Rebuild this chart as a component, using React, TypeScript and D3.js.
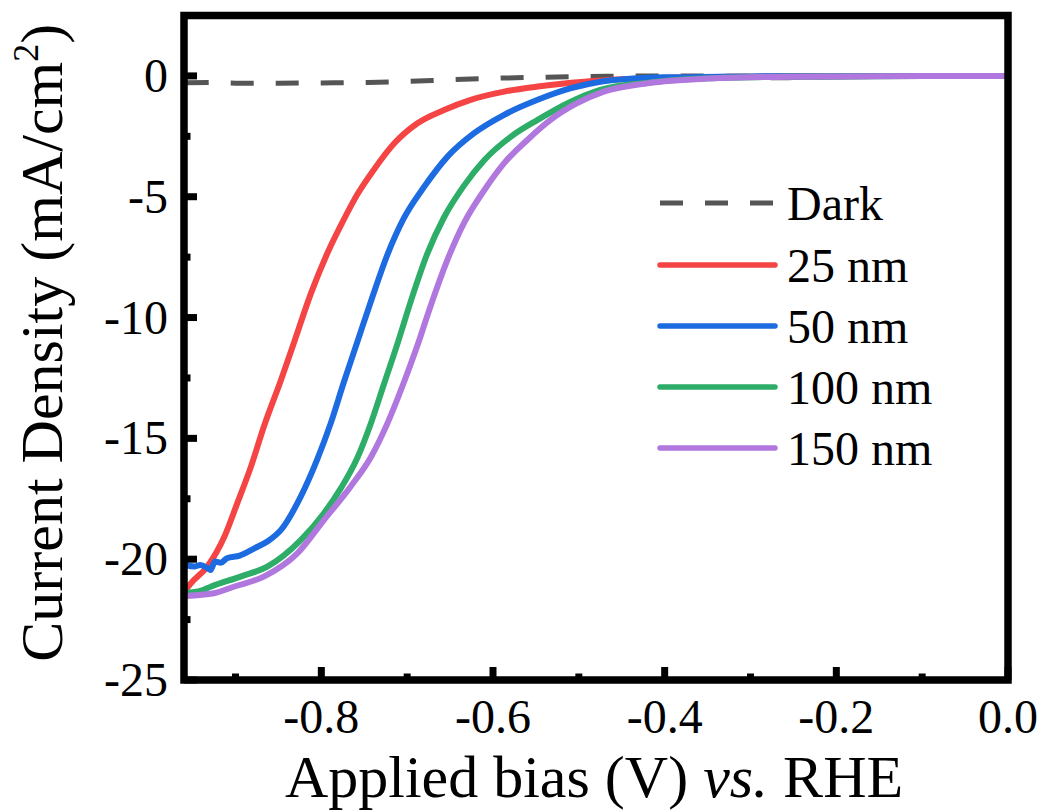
import React from "react";
import * as d3 from "d3";

const xTickValues = [-0.8, -0.6, -0.4, -0.2, 0.0];
const xMinorValues = [-0.9, -0.7, -0.5, -0.3, -0.1];
const yTickValues = [0, -5, -10, -15, -20, -25];
const yMinorValues = [-2.5, -7.5, -12.5, -17.5, -22.5];

const darkV = [-0.958, -0.93, -0.9, -0.85, -0.8, -0.75, -0.7, -0.65, -0.6, -0.55, -0.5, -0.45, -0.4, -0.3, -0.28, -0.2, -0.1, 0];
const darkJ = [-0.28, -0.27, -0.3, -0.3, -0.29, -0.27, -0.23, -0.16, -0.1, -0.06, -0.03, -0.01, 0, -0.02, -0.08, -0.02, 0, 0];

const redV = [-0.958, -0.952, -0.933, -0.913, -0.898, -0.882, -0.867, -0.847, -0.832, -0.812, -0.793, -0.774, -0.758, -0.739, -0.715, -0.688, -0.657, -0.626, -0.587, -0.548, -0.494, -0.45, -0.4, -0.3, -0.2, -0.1, 0];
const redJ = [-21.27, -21.0, -20.31, -19.07, -17.69, -16.17, -14.52, -12.58, -11.05, -8.99, -7.34, -5.96, -4.9, -3.89, -2.79, -1.96, -1.41, -0.99, -0.65, -0.44, -0.24, -0.14, -0.08, -0.03, -0.01, 0, 0];

const blueV = [-0.958, -0.948, -0.941, -0.933, -0.929, -0.924, -0.917, -0.91, -0.895, -0.878, -0.862, -0.847, -0.824, -0.805, -0.789, -0.774, -0.758, -0.741, -0.723, -0.704, -0.68, -0.653, -0.622, -0.587, -0.548, -0.509, -0.475, -0.44, -0.4, -0.3, -0.2, -0.1, 0];
const blueJ = [-20.24, -20.3, -20.24, -20.36, -20.45, -20.1, -20.15, -19.96, -19.85, -19.55, -19.25, -18.79, -17.41, -15.89, -14.37, -12.7, -11.0, -9.2, -7.4, -5.9, -4.58, -3.34, -2.37, -1.61, -0.99, -0.51, -0.24, -0.12, -0.06, -0.02, -0.01, 0, 0];

const greenV = [-0.958, -0.94, -0.929, -0.894, -0.863, -0.824, -0.797, -0.777, -0.758, -0.742, -0.727, -0.711, -0.696, -0.677, -0.657, -0.634, -0.61, -0.579, -0.548, -0.513, -0.475, -0.42, -0.35, -0.25, -0.1, 0];
const greenJ = [-21.4, -21.3, -21.14, -20.72, -20.31, -19.21, -18.1, -17.05, -15.8, -14.35, -12.75, -11.05, -9.35, -7.4, -5.85, -4.55, -3.48, -2.51, -1.82, -1.13, -0.58, -0.28, -0.1, -0.03, 0, 0];

const purpleV = [-0.958, -0.925, -0.902, -0.867, -0.828, -0.797, -0.766, -0.742, -0.723, -0.704, -0.688, -0.673, -0.653, -0.634, -0.61, -0.587, -0.56, -0.533, -0.502, -0.471, -0.42, -0.35, -0.25, -0.1, 0];
const purpleJ = [-21.52, -21.41, -21.14, -20.72, -19.76, -18.38, -17.0, -15.76, -14.38, -12.7, -11.15, -9.55, -7.6, -6.1, -4.72, -3.61, -2.65, -1.82, -1.13, -0.65, -0.3, -0.11, -0.03, 0, 0];

const seriesNames = ["Dark", "25 nm", "50 nm", "100 nm", "150 nm"];
const seriesColors = ["#555555", "#F44444", "#1C6BE0", "#2EAD69", "#B077DF"];

const W = 1044;
const H = 812;
const L = 184, R = 1008, T = 15.5, B = 680;
const FONT = "'Liberation Serif', 'Times New Roman', Times, serif";

export default function App() {
  const x = d3.scaleLinear().domain([-0.96, 0]).range([L, R]);
  const y = d3.scaleLinear().domain([-25, 2.5]).range([B, T]);
  const line = d3
    .line<[number, number]>()
    .x((d) => x(d[0]))
    .y((d) => y(d[1]))
    .curve(d3.curveMonotoneX);

  const series = [
    { v: darkV, j: darkJ },
    { v: redV, j: redJ },
    { v: blueV, j: blueJ },
    { v: greenV, j: greenJ },
    { v: purpleV, j: purpleJ },
  ];
  const drawOrder = [0, 1, 2, 3, 4];
  const legendY = [203, 265, 326, 387, 448];

  return (
    <svg
      width={W}
      height={H}
      style={{ position: "absolute", left: 0, top: 0, background: "#fff" }}
      fontFamily={FONT}
    >
      <defs>
        <clipPath id="plotclip">
          <rect x={L} y={T} width={R - L} height={B - T} />
        </clipPath>
      </defs>
      <g clipPath="url(#plotclip)">
        {drawOrder.map((i) => {
          const pts = series[i].v.map((v, k) => [v, series[i].j[k]] as [number, number]);
          return (
            <path
              key={i}
              d={line(pts) || ""}
              fill="none"
              stroke={seriesColors[i]}
              strokeWidth={i === 0 ? 5 : 6}
              strokeDasharray={i === 0 ? "23 22" : undefined}
              strokeLinejoin="round"
              strokeLinecap={i === 0 ? "butt" : "round"}
            />
          );
        })}
      </g>
      {xTickValues.map((v) => (
        <line key={"xt" + v} x1={x(v)} x2={x(v)} y1={B} y2={B - 13} stroke="#000" strokeWidth={7} />
      ))}
      {xMinorValues.map((v) => (
        <line key={"xm" + v} x1={x(v)} x2={x(v)} y1={B} y2={B - 6.5} stroke="#000" strokeWidth={7} />
      ))}
      {yTickValues.map((v) => (
        <line key={"yt" + v} x1={L} x2={L + 13} y1={y(v)} y2={y(v)} stroke="#000" strokeWidth={7} />
      ))}
      {yMinorValues.map((v) => (
        <line key={"ym" + v} x1={L} x2={L + 6.5} y1={y(v)} y2={y(v)} stroke="#000" strokeWidth={7} />
      ))}
      <rect x={L} y={T} width={R - L} height={B - T} fill="none" stroke="#000" strokeWidth={7.5} />
      {xTickValues.map((v) => (
        <text key={"xl" + v} x={x(v)} y={733} fontSize={48} textAnchor="middle" fill="#000">
          {d3.format(".1f")(v).replace("−", "-")}
        </text>
      ))}
      {yTickValues.map((v) => (
        <text key={"yl" + v} x={168} y={y(v) + 16} fontSize={48} textAnchor="end" fill="#000">
          {String(v)}
        </text>
      ))}
      <text x={(L + R) / 2 - 2} y={797} fontSize={60} textAnchor="middle" fill="#000">
        Applied bias (V) <tspan fontStyle="italic">vs.</tspan> RHE
      </text>
      <text
        transform={`translate(62, ${(T + B) / 2 - 5}) rotate(-90)`}
        fontSize={60}
        textAnchor="middle"
        fill="#000"
      >
        Current Density (mA/cm<tspan fontSize={36} dy={-24}>2</tspan>
        <tspan dy={24}>)</tspan>
      </text>
      {seriesNames.map((name, i) => (
        <g key={"lg" + i}>
          <line
            x1={660}
            x2={775}
            y1={legendY[i]}
            y2={legendY[i]}
            stroke={seriesColors[i]}
            strokeWidth={i === 0 ? 5 : 5.5}
            strokeDasharray={i === 0 ? "23 22" : undefined}
            strokeLinecap={i === 0 ? "butt" : "round"}
          />
          <text x={787} y={legendY[i] + 17} fontSize={48} fill="#000">
            {name}
          </text>
        </g>
      ))}
    </svg>
  );
}
